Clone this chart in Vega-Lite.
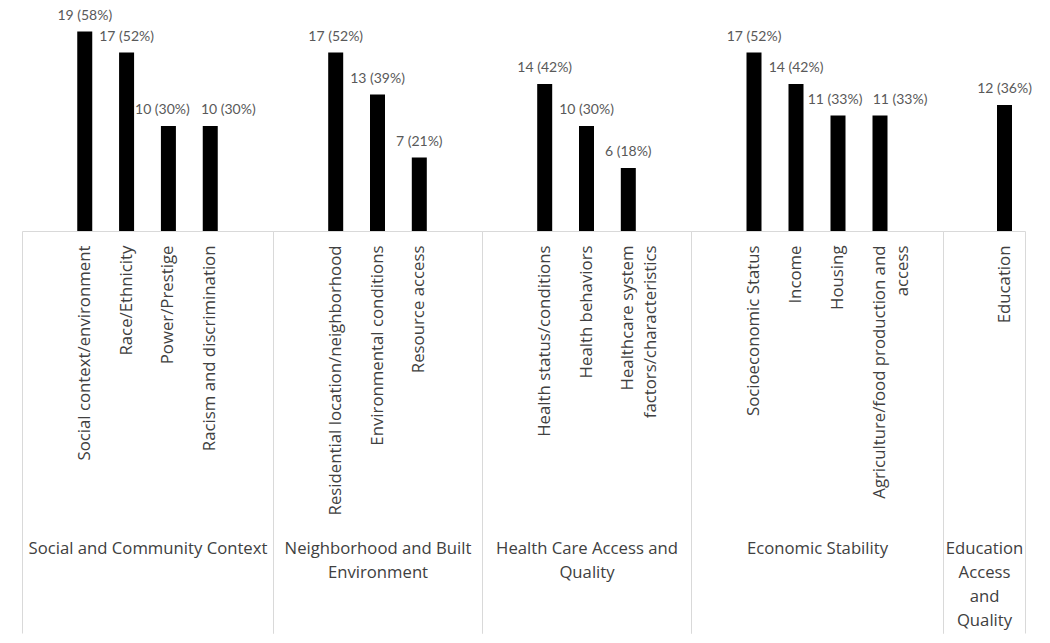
{
  "$schema": "https://vega.github.io/schema/vega-lite/v6.json",
  "padding": {"left": 21, "top": 0, "right": 5, "bottom": 5},
  "data": {"values": [
    {"group": "Social and Community Context", "item": "Social context/environment", "count": 19, "label": "19 (58%)"},
    {"group": "Social and Community Context", "item": "Race/Ethnicity", "count": 17, "label": "17 (52%)"},
    {"group": "Social and Community Context", "item": "Power/Prestige", "count": 10, "label": "10 (30%)"},
    {"group": "Social and Community Context", "item": "Racism and discrimination", "count": 10, "label": "10 (30%)"},
    {"group": "Neighborhood and Built Environment", "item": "Residential location/neighborhood", "count": 17, "label": "17 (52%)"},
    {"group": "Neighborhood and Built Environment", "item": "Environmental conditions", "count": 13, "label": "13 (39%)"},
    {"group": "Neighborhood and Built Environment", "item": "Resource access", "count": 7, "label": "7 (21%)"},
    {"group": "Health Care Access and Quality", "item": "Health status/conditions", "count": 14, "label": "14 (42%)"},
    {"group": "Health Care Access and Quality", "item": "Health behaviors", "count": 10, "label": "10 (30%)"},
    {"group": "Health Care Access and Quality", "item": "Healthcare system factors/characteristics", "count": 6, "label": "6 (18%)"},
    {"group": "Economic Stability", "item": "Socioeconomic Status", "count": 17, "label": "17 (52%)"},
    {"group": "Economic Stability", "item": "Income", "count": 14, "label": "14 (42%)"},
    {"group": "Economic Stability", "item": "Housing", "count": 11, "label": "11 (33%)"},
    {"group": "Economic Stability", "item": "Agriculture/food production and access", "count": 11, "label": "11 (33%)"},
    {"group": "Education Access and Quality", "item": "Education", "count": 12, "label": "12 (36%)"}
  ]},
  "spacing": 0,
  "bounds": "flush",
  "hconcat": [
    {
      "width": 251, "height": 231,
      "transform": [{"filter": "datum.group === 'Social and Community Context'"}],
      "layer": [
        {"layer": [
          {"mark": {"type": "bar", "color": "#000000", "width": 15},
           "encoding": {
             "x": {"field": "item", "type": "nominal", "sort": null, "scale": {"paddingInner": 0, "paddingOuter": 1},
                   "axis": {"orient": "bottom", "title": null, "labelAngle": -90, "labelAlign": "right", "labelBaseline": "middle", "ticks": false, "domain": false, "labelPadding": 14, "labelFont": "Open Sans", "labelFontSize": 16.8, "labelLimit": 400, "labelLineHeight": 23}},
             "y": {"field": "count", "type": "quantitative", "scale": {"domain": [0, 22]}, "axis": null}}},
          {"mark": {"type": "text", "baseline": "alphabetic", "dy": -12, "font": "Lato", "fontSize": 14, "color": "#595959",
                    "dx": {"expr": "datum.item === 'Racism and discrimination' ? 18 : datum.item === 'Power/Prestige' ? -6 : 0"}},
           "encoding": {
             "x": {"field": "item", "type": "nominal", "sort": null},
             "y": {"field": "count", "type": "quantitative"},
             "text": {"field": "label"}}}
        ]},
        {"mark": {"type": "point", "opacity": 0},
         "encoding": {"x": {"field": "group", "type": "nominal", "scale": {"type": "band", "paddingInner": 0, "paddingOuter": 0},
           "axis": {"orient": "bottom", "title": null, "labelAngle": 0, "labelAlign": "center", "labelBaseline": "top", "tickBand": "extent", "ticks": true, "tickSize": 402, "tickColor": "#d9d9d9", "domainColor": "#d9d9d9", "labelPadding": -93, "labelFont": "Open Sans", "labelFontSize": 16.7, "labelLineHeight": 24, "labelLimit": 400}}}}
      ],
      "resolve": {"scale": {"x": "independent"}, "axis": {"x": "independent"}}
    },
    {
      "width": 209, "height": 231,
      "transform": [{"filter": "datum.group === 'Neighborhood and Built Environment'"}],
      "layer": [
        {"layer": [
          {"mark": {"type": "bar", "color": "#000000", "width": 15},
           "encoding": {
             "x": {"field": "item", "type": "nominal", "sort": null, "scale": {"paddingInner": 0, "paddingOuter": 1},
                   "axis": {"orient": "bottom", "title": null, "labelAngle": -90, "labelAlign": "right", "labelBaseline": "middle", "ticks": false, "domain": false, "labelPadding": 14, "labelFont": "Open Sans", "labelFontSize": 16.8, "labelLimit": 400, "labelLineHeight": 23}},
             "y": {"field": "count", "type": "quantitative", "scale": {"domain": [0, 22]}, "axis": null}}},
          {"mark": {"type": "text", "baseline": "alphabetic", "dy": -12, "font": "Lato", "fontSize": 14, "color": "#595959"},
           "encoding": {
             "x": {"field": "item", "type": "nominal", "sort": null},
             "y": {"field": "count", "type": "quantitative"},
             "text": {"field": "label"}}}
        ]},
        {"mark": {"type": "point", "opacity": 0},
         "encoding": {"x": {"field": "group", "type": "nominal", "scale": {"type": "band", "paddingInner": 0, "paddingOuter": 0},
           "axis": {"orient": "bottom", "title": null, "labelAngle": 0, "labelAlign": "center", "labelBaseline": "top", "tickBand": "extent", "ticks": true, "tickSize": 402, "tickColor": "#d9d9d9", "domainColor": "#d9d9d9", "labelPadding": -93, "labelFont": "Open Sans", "labelFontSize": 16.7, "labelLineHeight": 24, "labelLimit": 400, "labelExpr": "datum.value === 'Neighborhood and Built Environment' ? ['Neighborhood and Built', 'Environment'] : datum.value"}}}}
      ],
      "resolve": {"scale": {"x": "independent"}, "axis": {"x": "independent"}}
    },
    {
      "width": 209, "height": 231,
      "transform": [{"filter": "datum.group === 'Health Care Access and Quality'"}],
      "layer": [
        {"layer": [
          {"mark": {"type": "bar", "color": "#000000", "width": 15},
           "encoding": {
             "x": {"field": "item", "type": "nominal", "sort": null, "scale": {"paddingInner": 0, "paddingOuter": 1},
                   "axis": {"orient": "bottom", "title": null, "labelAngle": -90, "labelAlign": "right", "labelBaseline": "middle", "ticks": false, "domain": false, "labelPadding": 14, "labelFont": "Open Sans", "labelFontSize": 16.8, "labelLimit": 400, "labelLineHeight": 23, "labelExpr": "datum.value === 'Healthcare system factors/characteristics' ? ['Healthcare system', 'factors/characteristics'] : datum.value"}},
             "y": {"field": "count", "type": "quantitative", "scale": {"domain": [0, 22]}, "axis": null}}},
          {"mark": {"type": "text", "baseline": "alphabetic", "dy": -12, "font": "Lato", "fontSize": 14, "color": "#595959"},
           "encoding": {
             "x": {"field": "item", "type": "nominal", "sort": null},
             "y": {"field": "count", "type": "quantitative"},
             "text": {"field": "label"}}}
        ]},
        {"mark": {"type": "point", "opacity": 0},
         "encoding": {"x": {"field": "group", "type": "nominal", "scale": {"type": "band", "paddingInner": 0, "paddingOuter": 0},
           "axis": {"orient": "bottom", "title": null, "labelAngle": 0, "labelAlign": "center", "labelBaseline": "top", "tickBand": "extent", "ticks": true, "tickSize": 402, "tickColor": "#d9d9d9", "domainColor": "#d9d9d9", "labelPadding": -93, "labelFont": "Open Sans", "labelFontSize": 16.7, "labelLineHeight": 24, "labelLimit": 400, "labelExpr": "datum.value === 'Health Care Access and Quality' ? ['Health Care Access and', 'Quality'] : datum.value"}}}}
      ],
      "resolve": {"scale": {"x": "independent"}, "axis": {"x": "independent"}}
    },
    {
      "width": 252, "height": 231,
      "transform": [{"filter": "datum.group === 'Economic Stability'"}],
      "layer": [
        {"layer": [
          {"mark": {"type": "bar", "color": "#000000", "width": 15},
           "encoding": {
             "x": {"field": "item", "type": "nominal", "sort": null, "scale": {"paddingInner": 0, "paddingOuter": 1},
                   "axis": {"orient": "bottom", "title": null, "labelAngle": -90, "labelAlign": "right", "labelBaseline": "middle", "ticks": false, "domain": false, "labelPadding": 14, "labelFont": "Open Sans", "labelFontSize": 16.8, "labelLimit": 400, "labelLineHeight": 23, "labelExpr": "datum.value === 'Agriculture/food production and access' ? ['Agriculture/food production and', 'access'] : datum.value"}},
             "y": {"field": "count", "type": "quantitative", "scale": {"domain": [0, 22]}, "axis": null}}},
          {"mark": {"type": "text", "baseline": "alphabetic", "dy": -12, "font": "Lato", "fontSize": 14, "color": "#595959",
                    "dx": {"expr": "datum.item === 'Agriculture/food production and access' ? 20 : datum.item === 'Housing' ? -3 : 0"}},
           "encoding": {
             "x": {"field": "item", "type": "nominal", "sort": null},
             "y": {"field": "count", "type": "quantitative"},
             "text": {"field": "label"}}}
        ]},
        {"mark": {"type": "point", "opacity": 0},
         "encoding": {"x": {"field": "group", "type": "nominal", "scale": {"type": "band", "paddingInner": 0, "paddingOuter": 0},
           "axis": {"orient": "bottom", "title": null, "labelAngle": 0, "labelAlign": "center", "labelBaseline": "top", "tickBand": "extent", "ticks": true, "tickSize": 402, "tickColor": "#d9d9d9", "domainColor": "#d9d9d9", "labelPadding": -93, "labelFont": "Open Sans", "labelFontSize": 16.7, "labelLineHeight": 24, "labelLimit": 400}}}}
      ],
      "resolve": {"scale": {"x": "independent"}, "axis": {"x": "independent"}}
    },
    {
      "width": 82, "height": 231,
      "transform": [{"filter": "datum.group === 'Education Access and Quality'"}],
      "layer": [
        {"layer": [
          {"mark": {"type": "bar", "color": "#000000", "width": 15},
           "encoding": {
             "x": {"field": "item", "type": "nominal", "sort": null, "scale": {"paddingInner": 0, "paddingOuter": 0.5, "align": 1},
                   "axis": {"orient": "bottom", "title": null, "labelAngle": -90, "labelAlign": "right", "labelBaseline": "middle", "ticks": false, "domain": false, "labelPadding": 14, "labelFont": "Open Sans", "labelFontSize": 16.8, "labelLimit": 400, "labelLineHeight": 23}},
             "y": {"field": "count", "type": "quantitative", "scale": {"domain": [0, 22]}, "axis": null}}},
          {"mark": {"type": "text", "baseline": "alphabetic", "dy": -12, "font": "Lato", "fontSize": 14, "color": "#595959"},
           "encoding": {
             "x": {"field": "item", "type": "nominal", "sort": null},
             "y": {"field": "count", "type": "quantitative"},
             "text": {"field": "label"}}}
        ]},
        {"mark": {"type": "point", "opacity": 0},
         "encoding": {"x": {"field": "group", "type": "nominal", "scale": {"type": "band", "paddingInner": 0, "paddingOuter": 0},
           "axis": {"orient": "bottom", "title": null, "labelAngle": 0, "labelAlign": "center", "labelBaseline": "top", "tickBand": "extent", "ticks": true, "tickSize": 402, "tickColor": "#d9d9d9", "domainColor": "#d9d9d9", "labelPadding": -93, "labelFont": "Open Sans", "labelFontSize": 16.7, "labelLineHeight": 24, "labelLimit": 400, "labelExpr": "datum.value === 'Education Access and Quality' ? ['Education', 'Access', 'and', 'Quality'] : datum.value"}}}}
      ],
      "resolve": {"scale": {"x": "independent"}, "axis": {"x": "independent"}}
    }
  ],
  "config": {
    "view": {"stroke": null},
    "axis": {"labelColor": "#404040", "grid": false}
  }
}
